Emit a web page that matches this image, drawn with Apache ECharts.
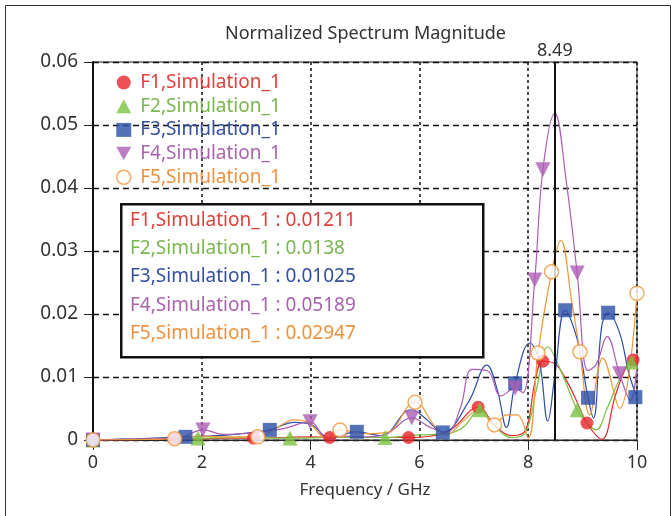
<!DOCTYPE html>
<html>
<head>
<meta charset="UTF-8">
<title>Normalized Spectrum Magnitude</title>
<script src="https://cdn.jsdelivr.net/npm/echarts@6/dist/echarts.min.js"></script>
<style>
  html, body { margin: 0; padding: 0; background: #fff; }
  #main { width: 672px; height: 516px; }
</style>
</head>
<body>
<div id="main"></div>
<script>
// series names, colours of legend/readout
var names = ['F1,Simulation_1', 'F2,Simulation_1', 'F3,Simulation_1', 'F4,Simulation_1', 'F5,Simulation_1'];
var colors = ['#e8262a', '#7cc242', '#2b4fa8', '#ad5cb4', '#f0963a'];
var textColors = ['#e0403c', '#7ab650', '#34509e', '#a963ad', '#ee9140'];

// cursor readout at 8.49 GHz
var cursorFreq = 8.49;
var readout = ['0.01211', '0.0138', '0.01025', '0.05189', '0.02947'];

// F1
var f1Freq = [0, 0.5, 1.0, 1.5, 2.0, 2.5, 2.95, 3.5, 4.0, 4.35, 5.0, 5.5, 5.8, 6.2, 6.6, 7.08, 7.4, 7.7, 7.95, 8.12, 8.27, 8.49, 8.7, 8.9, 9.08, 9.35, 9.6, 9.8, 9.93, 10];
var f1Val  = [0, 0, 0.0001, 0.0002, 0.0002, 0.0003, 0.0003, 0.0004, 0.0005, 0.0004, 0.0004, 0.0004, 0.0004, 0.0006, 0.0018, 0.0052, 0.0022, 0.0007, 0.0015, 0.009, 0.0125, 0.0121, 0.0095, 0.006, 0.0027, 0.0001, 0.007, 0.0115, 0.0127, 0.0125];
var f1MarkFreq = [0, 1.5, 2.95, 4.35, 5.8, 7.08, 8.27, 9.08, 9.93];
var f1MarkVal  = [0, 0.0002, 0.0003, 0.0004, 0.0004, 0.0052, 0.0125, 0.0027, 0.0127];

// F2
var f2Freq = [0, 1.0, 1.93, 2.8, 3.62, 4.5, 5.37, 6.0, 6.5, 6.8, 7.11, 7.4, 7.7, 7.95, 8.15, 8.36, 8.6, 8.9, 9.1, 9.25, 9.45, 9.7, 9.9, 10];
var f2Val  = [0, 0.0002, 0.0003, 0.0004, 0.0003, 0.0004, 0.0004, 0.0008, 0.001, 0.002, 0.0048, 0.002, 0.0004, 0.0012, 0.008, 0.0148, 0.011, 0.0048, 0.0025, 0.0016, 0.005, 0.01, 0.0124, 0.0122];
var f2MarkFreq = [0, 1.93, 3.62, 5.37, 7.11, 8.9, 9.9];
var f2MarkVal  = [0, 0.0003, 0.0003, 0.0004, 0.0048, 0.0048, 0.0124];

// F3
var f3Freq = [0, 0.8, 1.7, 2.5, 3.25, 3.7, 4.0, 4.35, 4.85, 5.3, 5.85, 6.1, 6.43, 6.9, 7.24, 7.43, 7.6, 7.76, 8.03, 8.2, 8.36, 8.49, 8.68, 8.9, 9.1, 9.2, 9.35, 9.47, 9.68, 9.85, 10];
var f3Val  = [0, 0.0002, 0.0005, 0.0008, 0.0016, 0.0028, 0.0025, 0.0003, 0.0013, 0.0007, 0.0048, 0.0035, 0.0012, 0.006, 0.0119, 0.008, 0.002, 0.009, 0.0154, 0.0127, 0.003, 0.01025, 0.0206, 0.016, 0.0067, 0.0035, 0.018, 0.0202, 0.017, 0.0106, 0.0068];
var f3MarkFreq = [0, 1.7, 3.25, 4.85, 6.43, 7.76, 8.68, 9.1, 9.47, 9.97];
var f3MarkVal  = [0, 0.0005, 0.0016, 0.0013, 0.0012, 0.009, 0.0206, 0.0067, 0.0202, 0.0068];

// F4
var f4Freq = [0, 1.0, 1.6, 2.02, 2.4, 3.0, 3.5, 3.99, 4.3, 4.6, 5.0, 5.4, 5.86, 6.2, 6.5, 6.75, 6.97, 7.25, 7.5, 7.76, 7.9, 8.12, 8.27, 8.49, 8.7, 8.9, 9.1, 9.25, 9.45, 9.68, 9.88, 10];
var f4Val  = [0, 0.0002, 0.0004, 0.0016, 0.0009, 0.0012, 0.0018, 0.0029, 0.0003, 0.0006, 0.0005, 0.001, 0.0035, 0.002, 0.0012, 0.005, 0.0112, 0.011, 0.007, 0.0082, 0.0075, 0.0254, 0.0429, 0.0519, 0.041, 0.0265, 0.011, 0.012, 0.0164, 0.0105, 0.0063, 0.012];
var f4MarkFreq = [0, 2.02, 3.99, 5.86, 7.76, 8.12, 8.27, 8.9, 9.68];
var f4MarkVal  = [0, 0.0016, 0.0029, 0.0035, 0.0082, 0.0254, 0.0429, 0.0265, 0.0105];

// F5
var f5Freq = [0, 1.0, 1.5, 2.0, 2.5, 3.03, 3.3, 3.7, 3.95, 4.3, 4.54, 5.0, 5.4, 5.92, 6.3, 6.5, 6.8, 7.1, 7.38, 7.6, 7.8, 8.0, 8.18, 8.43, 8.6, 8.8, 8.95, 9.13, 9.37, 9.68, 10];
var f5Val  = [0, 0.0001, 0.0002, 0.0006, 0.0005, 0.0005, 0.0015, 0.0032, 0.0028, 0.0003, 0.0016, 0.001, 0.0012, 0.006, 0.002, 0.0008, 0.003, 0.0048, 0.0024, 0.004, 0.004, 0.0003, 0.0138, 0.0267, 0.0317, 0.022, 0.014, 0.004, 0.013, 0.005, 0.0233];
var f5MarkFreq = [0, 1.5, 3.03, 4.54, 5.92, 7.38, 8.18, 8.43, 8.95, 10];
var f5MarkVal  = [0, 0.0002, 0.0005, 0.0016, 0.006, 0.0024, 0.0138, 0.0267, 0.014, 0.0233];

var curveFreqs = [f1Freq, f2Freq, f3Freq, f4Freq, f5Freq];
var curveVals = [f1Val, f2Val, f3Val, f4Val, f5Val];
var markFreqs = [f1MarkFreq, f2MarkFreq, f3MarkFreq, f4MarkFreq, f5MarkFreq];
var markVals = [f1MarkVal, f2MarkVal, f3MarkVal, f4MarkVal, f5MarkVal];

var downTri = 'path://M0,0 L10,0 L5,9 Z';
var symbols = ['circle', 'triangle', 'rect', downTri, 'circle'];
var symbolSizes = [13, 15, 14, 15, 14];

function zip(a, b) {
    var out = [];
    for (var i = 0; i < a.length; i++) out.push([a[i], b[i]]);
    return out;
}

var font = 'Noto Sans';
var chart = echarts.init(document.getElementById('main'));

var series = [];
for (var i = 0; i < 5; i++) {
    var line = {
        name: names[i] + ' curve',
        type: 'line',
        smooth: 0.4,
        showSymbol: false,
        data: zip(curveFreqs[i], curveVals[i]),
        lineStyle: { color: colors[i], width: 1.2 },
        z: 2
    };
    if (i === 3) {
        line.markLine = {
            silent: true,
            symbol: 'none',
            lineStyle: { color: '#111', width: 2, type: 'solid' },
            label: { position: 'end', formatter: String(cursorFreq), fontSize: 18, color: '#333', fontFamily: font, distance: 2 },
            data: [{ xAxis: cursorFreq }],
            z: 5
        };
    }
    series.push(line);
}
for (var j = 0; j < 5; j++) {
    series.push({
        name: names[j],
        type: 'scatter',
        symbol: symbols[j],
        symbolSize: symbolSizes[j],
        data: zip(markFreqs[j], markVals[j]),
        itemStyle: j === 4
            ? { color: '#fff', borderColor: colors[j], borderWidth: 1.5 }
            : { color: colors[j] },
        z: 3 + j
    });
}

var legendData = names.map(function (n, k) {
    return {
        name: n,
        icon: k === 4 ? 'circle' : symbols[k],
        itemStyle: k === 4 ? { color: '#fff', borderColor: colors[k], borderWidth: 1.5 } : { color: colors[k] },
        textStyle: { color: textColors[k] }
    };
});

var graphics = [
    {
        type: 'rect',
        left: 3, top: 3,
        shape: { width: 665, height: 511 },
        style: { fill: 'none', stroke: '#333', lineWidth: 1 },
        z: -10,
        silent: true
    },
    {
        type: 'text',
        left: 225,
        top: 25,
        z: 100,
        style: { text: 'Normalized Spectrum Magnitude', fill: '#333', font: '18px "' + font + '"' }
    },
    {
        type: 'rect',
        left: 120, top: 203,
        z: 100,
        shape: { width: 362, height: 153 },
        style: { fill: '#fff', stroke: '#111', lineWidth: 2.5 }
    }
];
names.forEach(function (n, k) {
    graphics.push({
        type: 'text',
        left: 130,
        top: 211 + k * 28.2,
        z: 101,
        style: { text: n + ' : ' + readout[k], fill: textColors[k], font: '19px "' + font + '"' }
    });
});

chart.setOption({
    animation: false,
    backgroundColor: '#fff',
    grid: { left: 93, right: 35, top: 62, bottom: 76, show: true, borderColor: '#222', borderWidth: 1, backgroundColor: '#fff' },
    legend: {
        orient: 'vertical',
        left: 116,
        top: 73,
        itemWidth: 15,
        itemHeight: 14,
        itemGap: 4.7,
        padding: 0,
        textStyle: { fontSize: 19, fontFamily: font, padding: [0, 0, 0, 4] },
        selectedMode: false,
        data: legendData
    },
    xAxis: {
        type: 'value',
        min: 0,
        max: 10,
        interval: 2,
        name: 'Frequency / GHz',
        nameLocation: 'middle',
        nameGap: 42,
        nameTextStyle: { fontSize: 17, color: '#333', fontFamily: font },
        axisLine: { lineStyle: { color: '#222', width: 1 } },
        axisTick: { show: true, inside: false, length: 10, lineStyle: { color: '#222' } },
        axisLabel: { fontSize: 18, color: '#333', margin: 14, fontFamily: font },
        splitLine: { show: true, lineStyle: { color: '#111', width: 1.5, type: [3, 3] } }
    },
    yAxis: {
        type: 'value',
        min: 0,
        max: 0.06,
        interval: 0.01,
        axisLine: { show: true, lineStyle: { color: '#111', width: 2 } },
        axisTick: { show: true, inside: false, length: 9, lineStyle: { color: '#222' } },
        axisLabel: {
            fontSize: 19, color: '#333', margin: 15, fontFamily: font,
            padding: [0, 0, 12, 0],
            formatter: function (v) { return v === 0 ? '0' : v.toFixed(2); }
        },
        splitLine: { show: true, lineStyle: { color: '#111', width: 1.3, type: [6, 4] } }
    },
    graphic: graphics,
    series: series
});
</script>
</body>
</html>
